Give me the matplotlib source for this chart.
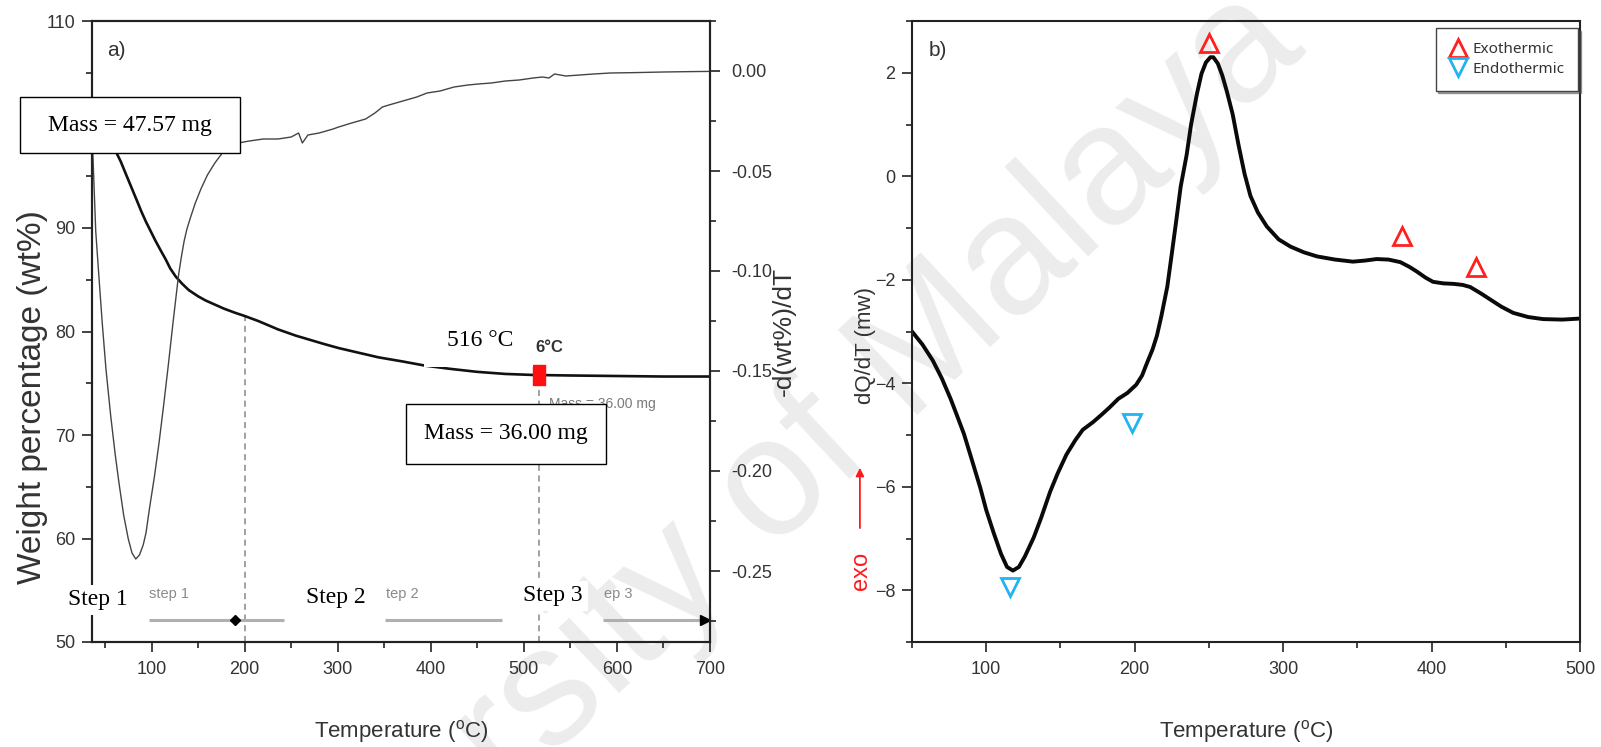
import numpy as np
import matplotlib
matplotlib.use("Agg")
from matplotlib import pyplot as plt
from matplotlib.patches import Rectangle
from matplotlib.ticker import MultipleLocator, FormatStrFormatter

plt.rcParams['font.family'] = ['Liberation Sans', 'DejaVu Sans']
plt.rcParams['mathtext.fontset'] = 'custom'
plt.rcParams['mathtext.rm'] = 'Liberation Sans'

# a) TG curve (weight %, left axis)
tg_T = [36, 42, 48, 55, 61, 67, 72, 78, 84, 89, 94, 99, 104, 110, 115, 120, 126, 133, 140, 150,
        158, 168, 178, 190, 200, 215, 236, 255, 270, 285, 301, 320, 344, 370, 394, 420, 450, 480,
        510, 550, 600, 650, 700]
tg_w = [99.8, 99.6, 99.2, 98.5, 97.5, 96.4, 95.3, 94.0, 92.7, 91.6, 90.6, 89.7, 88.8, 87.8, 87.0,
        86.1, 85.3, 84.6, 84.0, 83.4, 83.0, 82.6, 82.2, 81.8, 81.5, 81.0, 80.2, 79.6, 79.2, 78.8,
        78.4, 78.0, 77.5, 77.1, 76.7, 76.4, 76.1, 75.9, 75.8, 75.75, 75.7, 75.65, 75.65]

# a) DTG curve (right axis)
dtg_T = [36, 38, 40, 43, 47, 51, 56, 61, 65, 70, 75, 79, 83, 87, 91, 94, 98, 103, 108, 113, 118,
         123, 126, 129, 132, 135, 138, 142, 147, 153, 160, 168, 176, 185, 193, 205, 220, 236, 250,
         258, 262, 268, 280, 295, 301, 315, 330, 340, 348, 355, 370, 385, 396, 410, 425, 440, 451,
         465, 480, 495, 510, 520, 527, 533, 545, 560, 575, 593, 620, 650, 680, 700]
dtg_r = [-0.030, -0.055, -0.080, -0.100, -0.126, -0.149, -0.172, -0.192, -0.206, -0.222, -0.234,
         -0.241, -0.244, -0.242, -0.237, -0.231, -0.218, -0.203, -0.186, -0.167, -0.147, -0.126,
         -0.114, -0.102, -0.093, -0.085, -0.079, -0.073, -0.066, -0.059, -0.052, -0.046, -0.041,
         -0.038, -0.036, -0.035, -0.034, -0.034, -0.033, -0.031, -0.036, -0.032, -0.031, -0.029,
         -0.028, -0.026, -0.024, -0.021, -0.018, -0.017, -0.015, -0.013, -0.011, -0.010, -0.008,
         -0.007, -0.0065, -0.006, -0.005, -0.0045, -0.0035, -0.003, -0.0035, -0.0015, -0.0025,
         -0.002, -0.0015, -0.001, -0.0008, -0.0005, -0.0003, -0.0002]

step_T = [200, 516]
step_names = ['Step 1', 'Step 2', 'Step 3']
step_bars = [(97, 242), (351, 476), (585, 695)]
step_small = ['step 1', 'tep 2', 'ep 3']
step_small_T = [97, 352, 586]

# b) DSC curve
dsc_T = [50, 57, 64, 70, 76, 80, 85, 90, 96, 100, 105, 110, 114, 118, 122, 126, 132, 137, 143,
         148, 154, 160, 165, 172, 178, 183, 189, 195, 201, 205, 208, 212, 215, 218, 222, 225, 228,
         231, 235, 238, 242, 245, 248, 251, 253, 256, 259, 262, 266, 270, 274, 278, 283, 289, 297,
         305, 314, 323, 335, 347, 355, 363, 371, 379, 385, 390, 396, 401, 408, 415, 421, 426, 433,
         440, 447, 455, 465, 475, 488, 500]
dsc_v = [-3.0, -3.25, -3.56, -3.9, -4.3, -4.6, -4.98, -5.45, -6.02, -6.45, -6.89, -7.3, -7.55,
         -7.62, -7.55, -7.35, -6.98, -6.6, -6.1, -5.75, -5.38, -5.1, -4.9, -4.75, -4.6, -4.47,
         -4.3, -4.19, -4.03, -3.85, -3.63, -3.35, -3.08, -2.7, -2.13, -1.5, -0.86, -0.2, 0.41,
         1.0, 1.6, 1.98, 2.2, 2.3, 2.3, 2.18, 1.95, 1.65, 1.2, 0.6, 0.05, -0.38, -0.7, -0.97,
         -1.22, -1.36, -1.47, -1.55, -1.61, -1.65, -1.63, -1.6, -1.61, -1.66, -1.75, -1.84, -1.96,
         -2.04, -2.07, -2.08, -2.1, -2.14, -2.26, -2.39, -2.52, -2.64, -2.72, -2.76, -2.77, -2.75]
exo_T = [250, 380, 430]
exo_v = [2.58, -1.16, -1.75]
endo_T = [116, 198]
endo_v = [-7.93, -4.77]

W, H = 1601, 747
fig = plt.figure(figsize=(W / 100, H / 100), dpi=100)

def px(x, y):
    return x / W, 1 - y / H

def box_px(x0, y0, x1, y1, **kw):
    # rectangle given in picture pixels (top-left origin)
    r = Rectangle((x0 / W, 1 - y1 / H), (x1 - x0) / W, (y1 - y0) / H,
                  transform=fig.transFigure, **kw)
    fig.add_artist(r)

# watermark
fig.text(*px(720, 540), 'University of Malaya', rotation=43, rotation_mode='anchor',
         ha='center', va='center', fontsize=122, color='#ececec', zorder=-1)

dark = '#222222'
tcol = '#333333'

ax = fig.add_axes([92 / W, 1 - 642 / H, 618 / W, 621 / H])
ax.set_facecolor('none')
ax2 = ax.twinx()

ax.plot(tg_T, tg_w, color='#111111', lw=1.9, zorder=3)
ax2.plot(dtg_T, dtg_r, color='#444444', lw=1.0)

ax.set_xlim(36, 700)
ax.set_ylim(50, 110)
ax2.set_ylim(-0.2855, 0.025)

# step markers
tg_at = np.interp(step_T, tg_T, tg_w)
ax.vlines(step_T, 50, tg_at, colors='#888888', linestyles=(0, (4, 3)), lw=1.1, zorder=2)
ax.plot(step_T[1], tg_at[1], marker=[(-0.6, -1), (0.6, -1), (0.6, 1), (-0.6, 1), (-0.6, -1)],
        ms=15, color='#ff1010', zorder=4)
for (t0, t1) in step_bars:
    ax.plot([t0, t1], [52.1, 52.1], color='#b0b0b0', lw=2.2, solid_capstyle='butt')
ax.plot(190, 52.1, marker='D', ms=5, color='k')
ax.plot(step_bars[2][1], 52.1, marker='>', ms=7, color='k')
for s, t in zip(step_small, step_small_T):
    ax.text(t, 54.6, s, fontsize=10.5, color='#8a8a8a', ha='left', va='center')
ax.text(527, 73.0, 'Mass = 36.00 mg', fontsize=10, color='#7a7a7a', ha='left', va='center')

ax.xaxis.set_major_locator(MultipleLocator(100))
ax.xaxis.set_minor_locator(MultipleLocator(50))
ax.yaxis.set_major_locator(MultipleLocator(10))
ax.yaxis.set_minor_locator(MultipleLocator(5))
ax.yaxis.set_major_formatter(lambda v, p: '' if v == 100 else '%d' % v)
ax2.yaxis.set_major_locator(MultipleLocator(0.05))
ax2.yaxis.set_minor_locator(MultipleLocator(0.025))
ax2.yaxis.set_major_formatter(FormatStrFormatter('%.2f'))

for a in (ax, ax2):
    for sp in a.spines.values():
        sp.set_color(dark)
        sp.set_linewidth(1.5)
ax.tick_params(which='both', direction='out', colors=dark, labelcolor=tcol, labelsize=13,
               width=1.2, right=False, top=False)
ax.tick_params(which='major', length=7)
ax.tick_params(which='minor', length=4)
ax.tick_params(axis='y', pad=5)
ax.tick_params(axis='x', pad=7)
ax2.tick_params(which='both', direction='out', colors=dark, labelcolor=tcol, labelsize=13,
                width=1.2, pad=8)
ax2.tick_params(which='major', length=7)
ax2.tick_params(which='minor', length=4)

ax.set_xlabel('Temperature ($^{\\rm o}$C)', fontsize=16, color=tcol)
ax.xaxis.set_label_coords(0.5, -0.122)
ax.set_ylabel('Weight percentage (wt%)', fontsize=24, color=tcol, va='center')
ax.yaxis.set_label_coords(-0.097, 0.395)
ax2.set_ylabel('-d(wt%)/dT', fontsize=19, color=tcol, va='center', rotation=90)
ax2.yaxis.set_label_coords(1.12, 0.5)
ax.text(0.024, 0.952, 'a)', transform=ax.transAxes, fontsize=15, color=tcol,
        ha='left', va='center')

# overlay labels
serif = ['Liberation Serif', 'DejaVu Serif']
box_px(20, 97, 240, 153, facecolor='white', edgecolor='black', lw=1.0, zorder=2.5)
fig.text(*px(130, 125), 'Mass = 47.57 mg', family=serif, fontsize=17, ha='center',
         va='center', zorder=3)
box_px(406, 404, 606, 464, facecolor='white', edgecolor='black', lw=1.0, zorder=2.5)
fig.text(*px(506, 434), 'Mass = 36.00 mg', family=serif, fontsize=17, ha='center',
         va='center', zorder=3)
box_px(424, 312, 533, 367, facecolor='white', edgecolor='none', zorder=2.5)
fig.text(*px(480, 340), '516 \u00b0C', family=serif, fontsize=17, ha='center', va='center',
         zorder=3)
fig.text(*px(549, 347), '6\u00b0C', fontsize=12, fontweight='bold', color='#333333',
         ha='center', va='center')
for name, (cx, cy) in zip(step_names, [(98, 600), (336, 598), (553, 596)]):
    fig.text(*px(cx, cy), name, family=serif, fontsize=17, ha='center', va='center',
             bbox=dict(boxstyle='square,pad=0.2', facecolor='white', edgecolor='none'))

# b) DSC
bx = fig.add_axes([912 / W, 1 - 642 / H, 668 / W, 621 / H])
bx.set_facecolor('none')
bx.plot(dsc_T, dsc_v, color='#0a0a0a', lw=2.8, solid_joinstyle='round')
bx.plot(exo_T, exo_v, ls='none', marker='^', ms=13, mfc='none', mec='#ff2020', mew=2.0,
        label='Exothermic')
bx.plot(endo_T, endo_v, ls='none', marker='v', ms=13, mfc='none', mec='#20b4f0', mew=2.0,
        label='Endothermic')
bx.set_xlim(50, 500)
bx.set_ylim(-9, 3)
bx.xaxis.set_major_locator(MultipleLocator(100))
bx.xaxis.set_minor_locator(MultipleLocator(50))
bx.yaxis.set_major_locator(MultipleLocator(2))
bx.yaxis.set_minor_locator(MultipleLocator(1))
for sp in bx.spines.values():
    sp.set_color(dark)
    sp.set_linewidth(1.5)
bx.tick_params(which='both', direction='out', colors=dark, labelcolor=tcol, labelsize=13,
               width=1.2, right=False, top=False)
bx.tick_params(which='major', length=7)
bx.tick_params(which='minor', length=4)
bx.tick_params(axis='x', pad=7)
bx.tick_params(axis='y', pad=5)
bx.set_xlabel('Temperature ($^{\\rm o}$C)', fontsize=16, color=tcol)
bx.xaxis.set_label_coords(0.5, -0.122)
bx.text(-0.07, 0.477, 'dQ/dT (mw)', transform=bx.transAxes, rotation=90, fontsize=16,
        color=tcol, ha='center', va='center')
bx.text(-0.077, 0.115, 'exo', transform=bx.transAxes, rotation=90, fontsize=17,
        color='#ff1a1a', ha='center', va='center')
bx.annotate('', xy=(-0.078, 0.285), xytext=(-0.078, 0.179), xycoords='axes fraction',
            textcoords='axes fraction', annotation_clip=False,
            arrowprops=dict(arrowstyle='-|>', color='#ff1a1a', lw=1.3, mutation_scale=12))
bx.text(0.025, 0.952, 'b)', transform=bx.transAxes, fontsize=15, color=tcol,
        ha='left', va='center')
leg = bx.legend(loc='upper right', bbox_to_anchor=(0.997, 0.988), borderaxespad=0,
                fancybox=False, shadow=True, edgecolor='#444444', framealpha=1,
                prop={'family': 'Noto Sans', 'size': 11}, labelspacing=0.3,
                handlelength=1.1, handletextpad=0.4, borderpad=0.9, markerscale=0.95)
for t in leg.get_texts():
    t.set_color('#333333')

fig.savefig('out.png', dpi=100)
